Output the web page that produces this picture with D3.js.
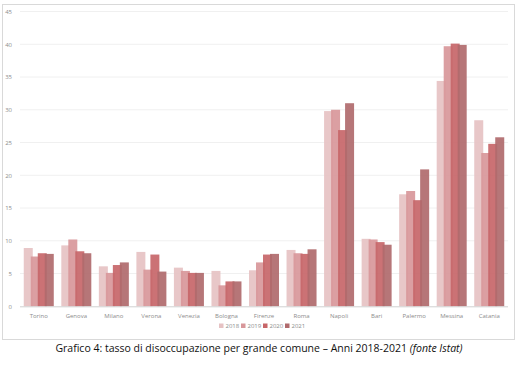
<!DOCTYPE html>
<html>
<head>
<meta charset="utf-8">
<script src="https://cdn.jsdelivr.net/npm/d3@7"></script>
<style>
  body { margin: 0; background: #fff; }
  svg { display: block; font-family: "Open Sans", "Liberation Sans", sans-serif; }
</style>
</head>
<body>
<div class="canvas"></div>
<script>
// data
const cities = ['Torino', 'Genova', 'Milano', 'Verona', 'Venezia', 'Bologna', 'Firenze',
  'Roma', 'Napoli', 'Bari', 'Palermo', 'Messina', 'Catania'];
const years = ['2018', '2019', '2020', '2021'];
const v2018 = [8.9, 9.3, 6.1, 8.3, 5.9, 5.4, 5.5, 8.6, 29.8, 10.3, 17.1, 34.4, 28.4];
const v2019 = [7.6, 10.2, 5.1, 5.6, 5.4, 3.2, 6.7, 8.1, 30.0, 10.2, 17.6, 39.7, 23.4];
const v2020 = [8.1, 8.4, 6.3, 7.9, 5.1, 3.8, 7.9, 8.0, 26.9, 9.8, 16.2, 40.1, 24.8];
const v2021 = [8.0, 8.1, 6.7, 5.3, 5.1, 3.8, 8.0, 8.7, 31.0, 9.4, 20.9, 39.9, 25.8];
const yTicks = [0, 5, 10, 15, 20, 25, 30, 35, 40, 45];

const series = [v2018, v2019, v2020, v2021];
const colors = ['#e6c2c3', '#d8979a', '#c76669', '#b06a6d'];

const W = 518, H = 366;
const svg = d3.select('.canvas')
  .append('svg')
    .attr('width', W)
    .attr('height', H);

// chart frame
svg.append('rect')
  .attr('x', 2.5).attr('y', 4.5)
  .attr('width', 512).attr('height', 335)
  .attr('fill', '#fff')
  .attr('stroke', '#d9d9d9');

const margin = {left: 20, right: 10, top: 11.5, bottom: 59.7};
const plotW = W - margin.left - margin.right;
const plotH = H - margin.top - margin.bottom;

const graph = svg.append('g')
  .attr('transform', `translate(${margin.left}, ${margin.top})`);

const y = d3.scaleLinear().domain([0, 45]).range([plotH, 0]);
const x = d3.scaleBand().domain(cities).range([0, plotW]).paddingInner(0).paddingOuter(0);

const barW = 9;
const x1 = d3.scalePoint().domain(years).range([0, 21]);
const groupW = 21 + barW;

// gridlines
graph.append('g')
  .selectAll('line')
  .data(yTicks.filter(d => d > 0))
  .enter().append('line')
    .attr('x1', 0).attr('x2', plotW)
    .attr('y1', d => y(d)).attr('y2', d => y(d))
    .attr('stroke', '#f0f0f0')
    .attr('stroke-width', 1);

// bars
years.forEach((yr, i) => {
  graph.append('g')
    .selectAll('rect')
    .data(series[i])
    .enter().append('rect')
      .attr('x', (d, j) => x(cities[j]) + (x.bandwidth() - groupW) / 2 + x1(yr))
      .attr('y', d => y(d))
      .attr('width', barW)
      .attr('height', d => plotH - y(d))
      .attr('fill', colors[i])
      .attr('fill-opacity', 0.92);
});

// baseline
graph.append('line')
  .attr('x1', 0).attr('x2', plotW)
  .attr('y1', plotH + 0.5).attr('y2', plotH + 0.5)
  .attr('stroke', '#d0d0d0');

// y axis labels
const yAxis = d3.axisLeft(y).tickValues(yTicks).tickSize(0).tickPadding(8);
const yAxisGroup = graph.append('g').call(yAxis);
yAxisGroup.select('.domain').remove();
yAxisGroup.selectAll('text')
  .attr('fill', '#8c8c8c')
  .attr('font-size', 6)
  .attr('font-family', '"Open Sans", sans-serif');

// x axis labels
const xAxis = d3.axisBottom(x).tickSize(0).tickPadding(7);
const xAxisGroup = graph.append('g')
  .attr('transform', `translate(0, ${plotH})`)
  .call(xAxis);
xAxisGroup.select('.domain').remove();
xAxisGroup.selectAll('text')
  .attr('fill', '#8c8c8c')
  .attr('font-size', 6)
  .attr('font-family', '"Open Sans", sans-serif');

// legend
const legend = svg.append('g').attr('transform', 'translate(219, 327)');
const legItems = legend.selectAll('g')
  .data(years)
  .enter().append('g')
    .attr('transform', (d, i) => `translate(${i * 22}, 0)`);
legItems.append('rect')
  .attr('x', 0).attr('y', -3.5)
  .attr('width', 4.5).attr('height', 4.5)
  .attr('fill', (d, i) => colors[i]);
legItems.append('text')
  .attr('x', 6.5).attr('y', 1)
  .attr('font-size', 6)
  .attr('fill', '#8c8c8c')
  .text(d => d);

// caption
const cap = svg.append('text')
  .attr('x', 259).attr('y', 352)
  .attr('text-anchor', 'middle')
  .attr('font-size', 10.5)
  .attr('fill', '#111')
  .attr('font-family', '"Open Sans", "Liberation Sans", sans-serif');
cap.append('tspan').text('Grafico 4: tasso di disoccupazione per grande comune – Anni 2018-2021 ');
cap.append('tspan').attr('font-style', 'italic').text('(fonte Istat)');
</script>
</body>
</html>
